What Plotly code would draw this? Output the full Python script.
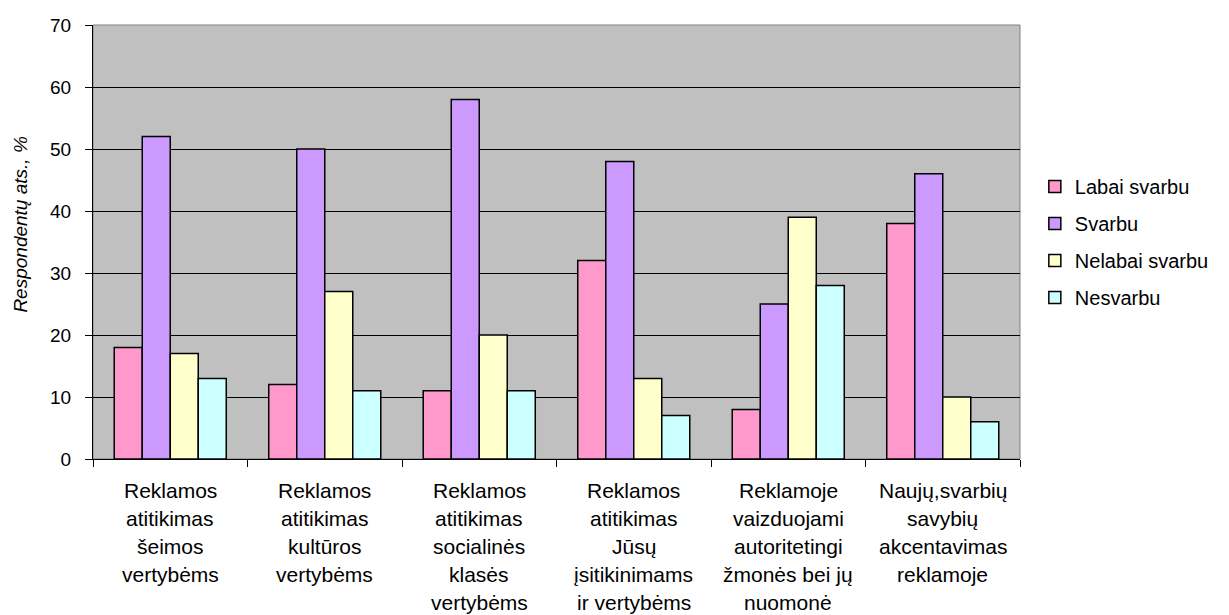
import plotly.graph_objects as go

category_lines = [
    ["Reklamos", "atitikimas", "šeimos", "vertybėms"],
    ["Reklamos", "atitikimas", "kultūros", "vertybėms"],
    ["Reklamos", "atitikimas", "socialinės", "klasės", "vertybėms"],
    ["Reklamos", "atitikimas", "Jūsų", "įsitikinimams", "ir vertybėms"],
    ["Reklamoje", "vaizduojami", "autoritetingi", "žmonės bei jų", "nuomonė"],
    ["Naujų,svarbių", "savybių", "akcentavimas", "reklamoje"],
]
categories = ["<br>".join(lines) for lines in category_lines]

labai_svarbu = [18, 12, 11, 32, 8, 38]
svarbu = [52, 50, 58, 48, 25, 46]
nelabai_svarbu = [17, 27, 20, 13, 39, 10]
nesvarbu = [13, 11, 11, 7, 28, 6]

y_title = "Respondentų ats., %"

series = [
    ("Labai svarbu", labai_svarbu, "#FF99CC"),
    ("Svarbu", svarbu, "#CC99FF"),
    ("Nelabai svarbu", nelabai_svarbu, "#FFFFCC"),
    ("Nesvarbu", nesvarbu, "#CCFFFF"),
]

font = "Liberation Sans, Arial, sans-serif"

fig = go.Figure()
for name, vals, color in series:
    fig.add_trace(go.Bar(
        x=categories, y=vals, name=name, legendgroup=name,
        marker=dict(color=color, line=dict(color="black", width=1.5)),
    ))

fig.update_layout(
    width=1229, height=615,
    margin=dict(l=93, r=209, t=25, b=156),
    paper_bgcolor="white",
    plot_bgcolor="#C0C0C0",
    barmode="group",
    bargap=0.275,
    bargroupgap=0,
    font=dict(family=font, size=19, color="black"),
    showlegend=True,
    legend=dict(
        x=1.016, xanchor="left", y=0.5, yanchor="middle",
        font=dict(family=font, size=20, color="black"),
        bgcolor="rgba(0,0,0,0)",
        traceorder="grouped",
        tracegroupgap=8,
    ),
    xaxis=dict(
        showline=True, linecolor="black", linewidth=1,
        ticks="outside", tickson="boundaries", ticklen=7, tickcolor="black",
        showticklabels=False,
        showgrid=False,
    ),
    yaxis=dict(
        range=[0, 70], dtick=10,
        showline=True, linecolor="black", linewidth=1,
        ticks="outside", ticklen=7, tickcolor="black",
        ticklabelstandoff=10,
        gridcolor="black", gridwidth=1,
        tickfont=dict(family=font, size=19),
        zeroline=False,
    ),
)

# category labels, one line per annotation (wider line spacing like the original)
for cat, lines in zip(categories, category_lines):
    for j, line in enumerate(lines):
        fig.add_annotation(
            x=cat, xref="x", y=0, yref="paper",
            text=line, showarrow=False,
            xanchor="center", yanchor="middle",
            yshift=-31 - 28 * j,
            font=dict(family=font, size=21, color="black"),
        )

fig.add_annotation(
    x=-0.0777, xref="paper", y=0.54, yref="paper",
    text="<i>" + y_title + "</i>", showarrow=False, textangle=-90,
    xanchor="center", yanchor="middle",
    font=dict(family=font, size=19, color="black"),
)

fig.add_shape(type="rect", xref="paper", yref="paper", x0=0, y0=0, x1=1, y1=1,
              line=dict(color="#808080", width=1), layer="below")

fig.write_html("out.html")
